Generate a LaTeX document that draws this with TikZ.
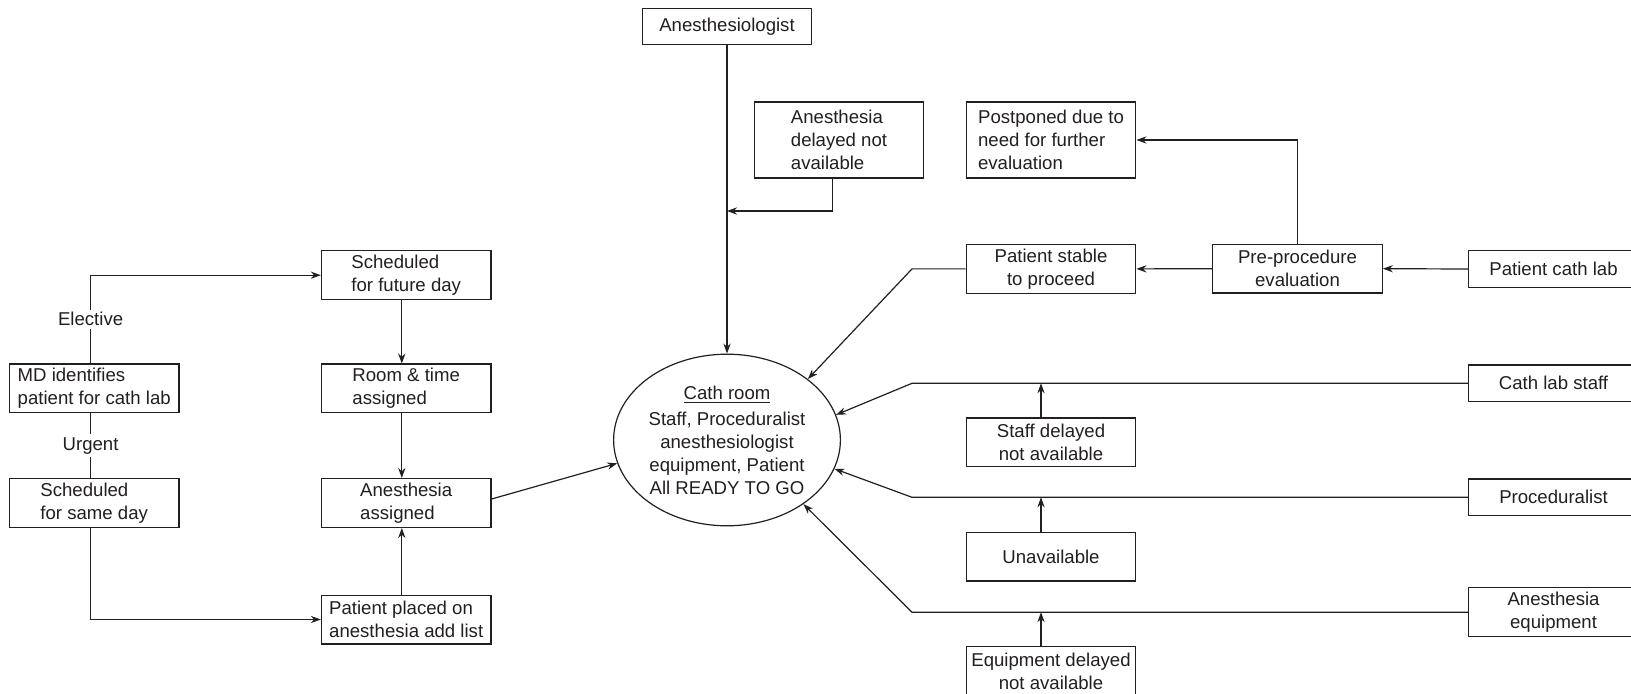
\documentclass[tikz,border=0pt]{standalone}
\usepackage{fontspec}
\setmainfont{Liberation Sans}
\usetikzlibrary{shapes.geometric,arrows.meta}
\definecolor{ink}{RGB}{35,31,32}
\begin{document}
\begin{tikzpicture}[x=0.5pt,y=-0.5pt,
  every node/.style={font=\fontsize{9.3}{11.4}\selectfont, text=ink},
  box/.style={draw=ink, line width=0.6pt, inner sep=0pt, minimum width=84.8pt, minimum height=24.4pt},
  tall/.style={box, minimum height=38pt},
  flat/.style={box, minimum height=18.3pt},
  link/.style={draw=ink, line width=0.6pt},
  arr/.style={link, -{Stealth[length=5pt,width=3.6pt]}},
  tag/.style={fill=white, inner sep=1.5pt}]
\clip (0,0) rectangle (1631,694);
\fill[white] (0,0) rectangle (1631,694);

% scheduling column on the left
\node[box, align=left] (sfd)  at (406.2,275.2) {Scheduled\\for future day};
\node[box, align=left] (rta)  at (406.2,388.5) {Room \& time\\assigned};
\node[box, align=left] (aa)   at (406.2,503)   {Anesthesia\\assigned};
\node[box, align=left] (ppl)  at (406.2,619.5) {Patient placed on\\anesthesia add list};
\node[box, align=left] (md)   at (94.2,388.5)  {MD identifies\\patient for cath lab};
\node[box, align=left] (ssd)  at (94.2,503)    {Scheduled\\for same day};

% top and middle column
\node[flat] (anes) at (727,26.5) {Anesthesiologist};
\node[tall, align=left] (adna) at (839,140)  {Anesthesia\\delayed not\\available};
\node[tall, align=left] (post) at (1051,140) {Postponed due to\\need for further\\evaluation};
\node[box, align=center] (ps)   at (1051,268.9) {Patient stable\\to proceed};
\node[box, align=center] (pce)  at (1297.5,268.7) {Pre-procedure\\evaluation};
\node[box, align=center] (sdna) at (1051,442.5) {Staff delayed\\not available};
\node[box] (unav) at (1051,556.5) {Unavailable};
\node[box, align=center] (edna) at (1051,671) {Equipment delayed\\not available};

% resources on the right edge
\node[flat] (pcl)  at (1553.5,269)   {Patient cath lab};
\node[flat] (cls)  at (1553.5,383.3) {Cath lab staff};
\node[flat] (proc) at (1553.5,497.3) {Proceduralist};
\node[box, align=center] (ae) at (1553.5,612.2) {Anesthesia\\equipment};

% the cath room
\node[ellipse, draw=ink, line width=0.6pt, minimum width=113.4pt, minimum height=85.8pt, inner sep=0pt] (cath) at (727,440) {};
\node[align=center] (cathtext) at (727,440) {\underline{Cath room}\\[2pt]Staff, Proceduralist\\anesthesiologist\\equipment, Patient\\All READY TO GO};

% left-hand flow
\draw[arr] ([xshift=-1.8pt]md.north) |- node[tag, pos=0.25] {Elective} (sfd.west);
\draw[link] ([xshift=-1.8pt]md.south) -- node[tag] {Urgent} ([xshift=-1.8pt]ssd.north);
\draw[arr] ([xshift=-1.8pt]ssd.south) |- (ppl.west);
\draw[arr] ([xshift=-2.2pt]sfd.south) -- ([xshift=-2.2pt]rta.north);
\draw[arr] ([xshift=-2.2pt]rta.south) -- ([xshift=-2.2pt]aa.north);
\draw[arr] ([xshift=-2.2pt]ppl.north) -- ([xshift=-2.2pt]aa.south);
\draw[arr] ([yshift=2pt]aa.east) -- (cath.192.6);

% anesthesiologist feed
\coordinate (j1) at (727,211);
\draw[arr] (anes.south) -- (cath.north);
\draw[arr] ([xshift=-3.3pt]adna.south) |- (j1);

% patient evaluation
\draw[arr] (pcl.west) -- (pce.east);
\draw[arr] (pce.west) -- (ps.east);
\draw[arr] (pce.north) |- (post.east);
\coordinate (bendx) at (912,0);
\coordinate (upx) at (1041,0);
\draw[arr] (ps.west) -- (ps.west -| bendx) -- (cath.37.4);

% staff, proceduralist and equipment feeds
\draw[arr] (cls.west) -- (cls.west -| bendx) -- (cath.13.8);
\draw[arr] (proc.west) -- (proc.west -| bendx) -- (cath.-15.8);
\draw[arr] (ae.west) -- (ae.west -| bendx) -- (cath.-40.2);
\draw[arr] (sdna.north -| upx) -- (cls.west -| upx);
\draw[arr] (unav.north -| upx) -- (proc.west -| upx);
\draw[arr] (edna.north -| upx) -- (ae.west -| upx);
\end{tikzpicture}
\end{document}
